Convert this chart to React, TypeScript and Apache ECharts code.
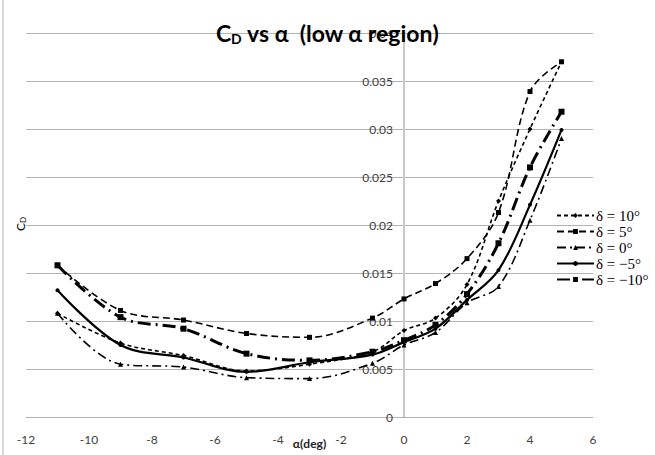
import React, { useEffect, useRef } from "react";
import * as echarts from "echarts";

const alpha = [-11, -9, -7, -5, -3, -1, 0, 1, 2, 3, 4, 5];
const cdDelta10 = [0.0108, 0.0077, 0.0064, 0.0048, 0.0055, 0.0068, 0.009, 0.0103, 0.0138, 0.0225, 0.03, 0.037];
const cdDelta5 = [0.0158, 0.0111, 0.0101, 0.0087, 0.0083, 0.0103, 0.0123, 0.0139, 0.0165, 0.0213, 0.0339, 0.037];
const cdDelta0 = [0.0108, 0.0055, 0.0052, 0.0041, 0.004, 0.0056, 0.0075, 0.0088, 0.0119, 0.0136, 0.0205, 0.029];
const cdDeltaM5 = [0.0132, 0.0075, 0.0062, 0.0047, 0.0057, 0.0065, 0.0078, 0.0092, 0.0122, 0.0153, 0.0221, 0.0299];
const cdDeltaM10 = [0.0158, 0.0104, 0.0092, 0.0066, 0.0059, 0.0068, 0.008, 0.0096, 0.0128, 0.0181, 0.026, 0.0318];

const seriesNames = ["δ = 10°", "δ = 5°", "δ = 0°", "δ = −5°", "δ = −10°"];
const seriesValues = [cdDelta10, cdDelta5, cdDelta0, cdDeltaM5, cdDeltaM10];

const titleText = "C_D vs α  (low α region)";
const xAxisTitle = "α(deg)";

const styles: any[] = [
  { type: [4, 3], width: 1.6, symbol: "diamond", size: 5 },
  { type: [7, 4], width: 1.6, symbol: "rect", size: 5 },
  { type: [9, 4, 2, 4], width: 1.6, symbol: "triangle", size: 5 },
  { type: "solid", width: 2.2, symbol: "circle", size: 4 },
  { type: [13, 5, 2, 5], width: 3, symbol: "rect", size: 6 },
];

const GRID_LEFT = 26;
const GRID_RIGHT = 62;
const W = 655;
const X_MIN = -12;
const X_MAX = 6;

export default function App() {
  const ref = useRef<HTMLDivElement>(null);
  useEffect(() => {
    document.body.style.margin = "0";
    const chart = echarts.init(ref.current!, undefined, { renderer: "svg" });
    const sans = "Lato, 'Open Sans', sans-serif";
    const [tMain, tRest] = [titleText.split("_")[0], titleText.split("_")[1]];
    const plotW = W - GRID_LEFT - GRID_RIGHT;
    const zeroOffset = ((0 - X_MIN) / (X_MAX - X_MIN)) * plotW;
    chart.setOption({
      animation: false,
      backgroundColor: "#ffffff",
      title: {
        text: `{m|${tMain}}{s|${tRest.slice(0, 1)}}{m|${tRest.slice(1)}}`,
        left: "center",
        top: 15,
        textStyle: {
          rich: {
            m: { fontFamily: sans, fontWeight: "bold", fontSize: 23, color: "#000" },
            s: { fontFamily: sans, fontWeight: "bold", fontSize: 14, color: "#000", padding: [11, 0, 0, 0] },
          },
        },
      },
      grid: { left: GRID_LEFT, right: GRID_RIGHT, top: 33, bottom: 38, containLabel: false, outerBoundsMode: "none" },
      legend: {
        orient: "vertical",
        left: 551,
        top: 203,
        itemWidth: 37,
        itemHeight: 6,
        itemGap: 1,
        data: seriesNames,
        textStyle: { fontFamily: "'Liberation Serif', serif", fontSize: 15, color: "#000", lineHeight: 14, padding: [0, 0, 0, -3] },
      },
      xAxis: {
        type: "value",
        min: X_MIN,
        max: X_MAX,
        interval: 2,
        name: xAxisTitle,
        nameLocation: "middle",
        nameGap: 20,
        nameMoveOverlap: false,
        nameTextStyle: { fontFamily: sans, fontWeight: "bold", fontSize: 12, color: "#222" },
        axisLine: { show: true, onZero: false, lineStyle: { color: "#b3b3b3", width: 1 } },
        axisTick: { show: false },
        axisLabel: { margin: 16, fontFamily: sans, fontSize: 12, color: "#404040" },
        splitLine: { show: false },
      },
      yAxis: {
        type: "value",
        min: 0,
        max: 0.04,
        interval: 0.005,
        offset: -zeroOffset,
        axisLine: { show: true, onZero: false, lineStyle: { color: "#c8c8c8", width: 2 } },
        axisTick: { show: false },
        axisLabel: {
          margin: 11,
          fontFamily: sans,
          fontSize: 12,
          color: "#404040",
          formatter: (v: number) => String(parseFloat(v.toFixed(4))),
        },
        splitLine: { show: true, lineStyle: { color: "#b3b3b3", width: 1 } },
      },
      graphic: [
        { type: "line", shape: { x1: 3, y1: 0, x2: 3, y2: 455 }, style: { stroke: "#b0b0b0", lineWidth: 1 } },
        {
          type: "text",
          x: 20,
          y: 224,
          rotation: Math.PI / 2,
          style: {
            text: "{c|C}{d|D}",
            align: "center",
            verticalAlign: "middle",
            rich: {
              c: { fontFamily: sans, fontSize: 12, color: "#333" },
              d: { fontFamily: sans, fontSize: 8, color: "#333", padding: [6, 0, 0, 0] },
            },
          },
        },
      ],
      series: seriesNames.map((name, i) => ({
        name,
        type: "line",
        smooth: 0.35,
        data: alpha.map((a, j) => [a, seriesValues[i][j]]),
        symbol: styles[i].symbol,
        symbolSize: styles[i].size,
        itemStyle: { color: "#000" },
        lineStyle: { color: "#000", width: styles[i].width, type: styles[i].type },
      })),
    });
    return () => chart.dispose();
  }, []);
  return <div ref={ref} style={{ width: 655, height: 455 }} />;
}
